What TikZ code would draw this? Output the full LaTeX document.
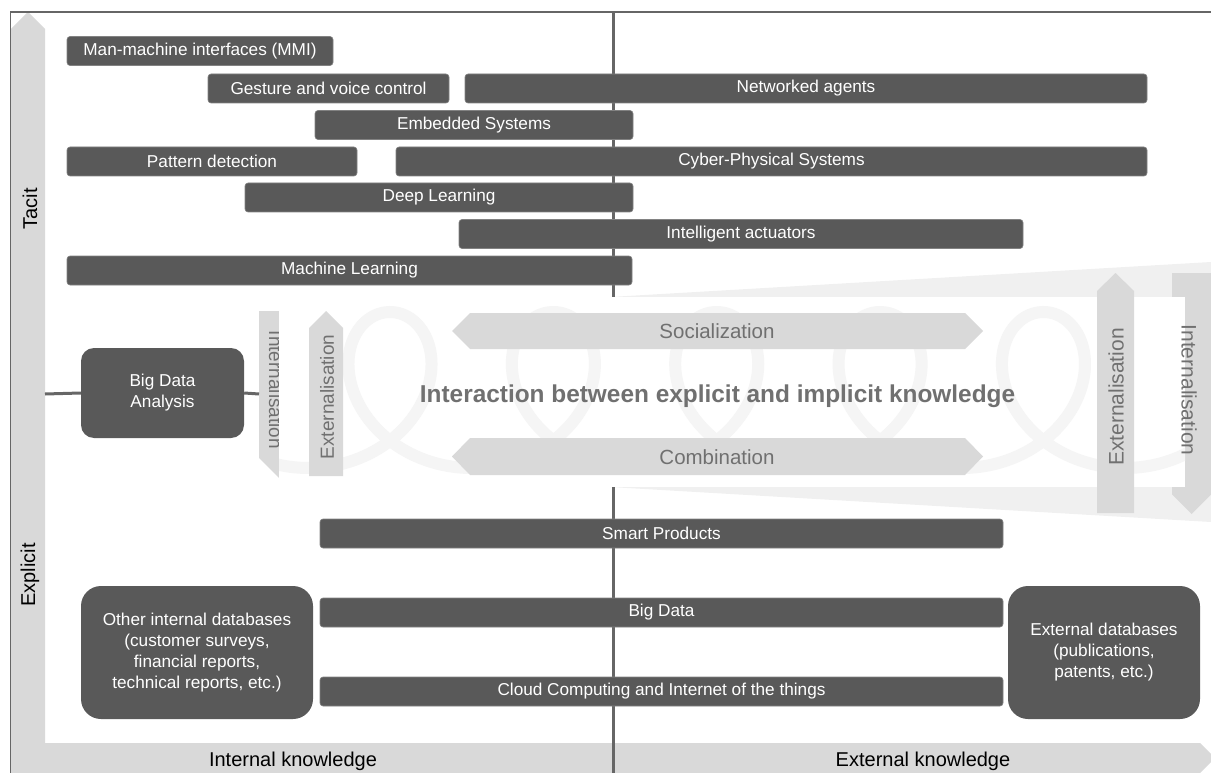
\documentclass[tikz,border=0pt]{standalone}
\usepackage{fontspec}
\setmainfont{Liberation Sans}
\definecolor{barfill}{HTML}{595959}
\definecolor{bandgray}{HTML}{D9D9D9}
\definecolor{linegray}{HTML}{666666}
\definecolor{flowgray}{HTML}{707070}
\definecolor{funnelgray}{HTML}{F0F0F0}
\definecolor{ribbongray}{HTML}{F5F5F5}
\newcommand{\pxfont}[1]{\fontsize{#1}{#1}\selectfont}

\begin{document}
\begin{tikzpicture}[x=1pt, y=-1pt,
		bar/.style={fill=barfill, draw=barfill!75!white, line width=0.6pt, rounded corners=3pt, text=white, inner sep=0pt, minimum height=29pt, font=\pxfont{17.2}},
		blob/.style={fill=barfill, text=white, align=center, inner sep=0pt, font=\fontsize{17.2}{21}\selectfont},
		band/.style={fill=bandgray},
		flowtxt/.style={text=flowgray, font=\pxfont{20.5}},
		axistxt/.style={font=\pxfont{20}},
		link/.style={draw=linegray, line width=3pt}]
		\clip (0,0) rectangle (1211,773);
		% funnel behind the middle part
		\fill[funnelgray] (610,297) -- (1211,262) -- (1211,522) -- (610,487) -- cycle;
		% axes
		\fill[band] (11,780) -- (11,29) -- (28,12) -- (45,29) -- (45,743) -- (1200,743) -- (1215,758) -- (1200,773) -- (11,780) -- cycle;
		\draw[linegray, line width=1.8pt] (10,12) -- (1211,12);
		\draw[linegray, line width=1pt] (10,12) -- (10,773);
		\draw[linegray, line width=3pt] (613,12) -- (613,773);
		\node[axistxt, rotate=90] (tacit) at (30,209) {Tacit};
		\node[axistxt, rotate=90] (explicit) at (30,575) {Explicit};
		\node[axistxt] (intk) at (293,761) {Internal knowledge};
		\node[axistxt] (extk) at (923,761) {External knowledge};
		% internalisation arrows, partly hidden
		\fill[band] (259,311) -- (299,311) -- (299,458) -- (279,478) -- (259,458) -- cycle;
		\node[flowtxt, font=\pxfont{19}, rotate=-90] (intl) at (276,390) {Internalisation};
		\fill[band] (1172,273) -- (1211,273) -- (1211,494.5) -- (1191.5,514) -- (1172,494.5) -- cycle;
		% white panel with loops
		\fill[white] (279,297) rectangle (1185,487);
		\begin{scope}
			\clip (279,297) rectangle (1185,487);
			\draw[ribbongray, line width=12pt] plot[domain=-4:30, samples=400, smooth] ({390+26*\x-78*sin(\x r)}, {390-78*cos(\x r)});
		\end{scope}
		\node[flowtxt, font=\pxfont{21}, rotate=-90] (intr) at (1189,390) {Internalisation};
		% flows
		\fill[band] (309,476) -- (309,328) -- (326,311) -- (343,328) -- (343,476) -- cycle;
		\node[flowtxt, font=\pxfont{19}, rotate=90] (extl) at (327,397) {Externalisation};
		\fill[band] (452,331) -- (470,313) -- (965,313) -- (983,331) -- (965,349) -- (470,349) -- cycle;
		\node[flowtxt] (soc) at (717,331) {Socialization};
		\fill[band] (452,456.5) -- (470,438) -- (965,438) -- (983,456.5) -- (965,475) -- (470,475) -- cycle;
		\node[flowtxt] (comb) at (717,457) {Combination};
		\fill[band] (1097,513) -- (1097,291) -- (1115.5,273) -- (1134,291) -- (1134,513) -- cycle;
		\node[flowtxt, font=\pxfont{21}, rotate=90] (extr) at (1116,397) {Externalisation};
		\node[text=flowgray, font=\bfseries\pxfont{24.4}] (inter) at (717.5,396) {Interaction between explicit and implicit knowledge};
		% tacit technologies
		\node[bar, minimum width=266pt] (mmi) at (200,51) {Man-machine interfaces (MMI)};
		\node[bar, minimum width=241pt] (gvc) at (328.5,88.5) {Gesture and voice control};
		\node[bar, minimum width=682pt] (nag) at (806,88.5) {Networked agents};
		\node[bar, minimum width=318pt] (emb) at (474,125) {Embedded Systems};
		\node[bar, minimum width=290pt] (pat) at (212,161.5) {Pattern detection};
		\node[bar, minimum width=751pt] (cps) at (771.5,161.5) {Cyber-Physical Systems};
		\node[bar, minimum width=388pt] (dl) at (439,197.5) {Deep Learning};
		\node[bar, minimum width=564pt] (ia) at (741,234) {Intelligent actuators};
		\node[bar, minimum width=565pt] (ml) at (349.5,270.5) {Machine Learning};
		% explicit technologies
		\foreach \n/\y/\t in {sp/533.5/Smart Products, bd/612.5/Big Data, cc/691.5/Cloud Computing and Internet of the things}
		\node[bar, minimum width=683pt] (\n) at (661.5,\y) {\t};
		% data sources
		\node[blob, rounded corners=13pt, minimum width=163pt, minimum height=90pt] (bda) at (162.5,393) {Big Data\\Analysis};
		\coordinate (yax) at (45,394);
		\coordinate (intin) at (259,394);
		\draw[link] (yax) -- (bda.west);
		\draw[link] (bda.east) -- (intin);
		\node[blob, rounded corners=20pt, minimum width=232pt, minimum height=133pt] (oid) at (197,652.5) {Other internal databases\\(customer surveys,\\financial reports,\\technical reports, etc.)};
		\node[blob, rounded corners=20pt, minimum width=192pt, minimum height=133pt] (edb) at (1104,652.5) {External databases\\(publications,\\patents, etc.)};
	\end{tikzpicture}
\end{document}
